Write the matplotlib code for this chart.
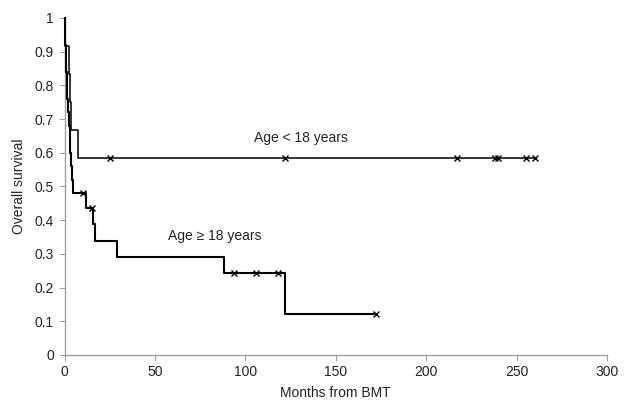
import matplotlib
matplotlib.use("Agg")
import matplotlib.pyplot as plt
import numpy as np

plt.rcParams['font.family'] = ['Liberation Sans', 'DejaVu Sans']

# Age < 18 years: step times (months) and survival after each step
young_t = [0, 0.5, 2.5, 3.0, 3.8, 7.5, 260]
young_s = [1.0, 0.917, 0.833, 0.75, 0.667, 0.583, 0.583]
young_cens_t = [25, 122, 217, 238, 240, 255, 260]
young_cens_s = [0.583, 0.583, 0.583, 0.583, 0.583, 0.583, 0.583]

# Age >= 18 years
old_t = [0, 0.2, 0.5, 0.8, 1.0, 1.3, 1.6, 2.0, 2.4, 2.8, 3.2, 3.6, 4.2, 4.7,
         11.7, 16.0, 17.0, 29.0, 88.0, 122.0, 172.0]
old_s = [1.0, 0.96, 0.92, 0.88, 0.84, 0.80, 0.76, 0.72, 0.68, 0.64, 0.60, 0.56, 0.52, 0.48,
         0.436, 0.388, 0.339, 0.291, 0.242, 0.121, 0.121]
old_cens_t = [10, 15, 94, 106, 118, 172]
old_cens_s = [0.48, 0.436, 0.242, 0.242, 0.242, 0.121]

xticks = [0, 50, 100, 150, 200, 250, 300]
yticks = [0, 0.1, 0.2, 0.3, 0.4, 0.5, 0.6, 0.7, 0.8, 0.9, 1.0]
ytick_labels = ['0', '0.1', '0.2', '0.3', '0.4', '0.5', '0.6', '0.7', '0.8', '0.9', '1']

fig = plt.figure(figsize=(6.3, 4.08), dpi=100)
ax = fig.add_axes([0.1024, 0.130, 0.861, 0.826])

ax.step(young_t, young_s, where='post', color='black', lw=1.1, zorder=4, clip_on=False)
ax.step(old_t, old_s, where='post', color='black', lw=1.5, zorder=4, clip_on=False)
ax.plot(young_cens_t, young_cens_s, 'x', color='black', ms=5, mew=1.0, zorder=5, clip_on=False)
ax.plot(old_cens_t, old_cens_s, 'x', color='black', ms=5, mew=1.0, zorder=5, clip_on=False)

ax.set_xlim(0, 300)
ax.set_ylim(0, 1)
ax.set_xticks(xticks)
ax.set_yticks(yticks)
ax.set_yticklabels(ytick_labels)

for s in ['top', 'right']:
    ax.spines[s].set_visible(False)
for s in ['left', 'bottom']:
    ax.spines[s].set_color('#a0a0a0')
    ax.spines[s].set_linewidth(1.0)
    ax.spines[s].set_zorder(1)
ax.tick_params(axis='both', colors='#a0a0a0', labelcolor='#222222', labelsize=10,
               length=4, width=0.8, direction='out')

ax.set_xlabel('Months from BMT', fontsize=10, color='#222222', labelpad=5)
ax.set_ylabel('Overall survival', fontsize=10, color='#222222', labelpad=6)

ax.text(131, 0.645, 'Age < 18 years', fontsize=10, color='#222222', ha='center', va='center')
ax.text(83, 0.352, 'Age ≥ 18 years', fontsize=10, color='#222222', ha='center', va='center')

fig.savefig('out.png', dpi=100)
